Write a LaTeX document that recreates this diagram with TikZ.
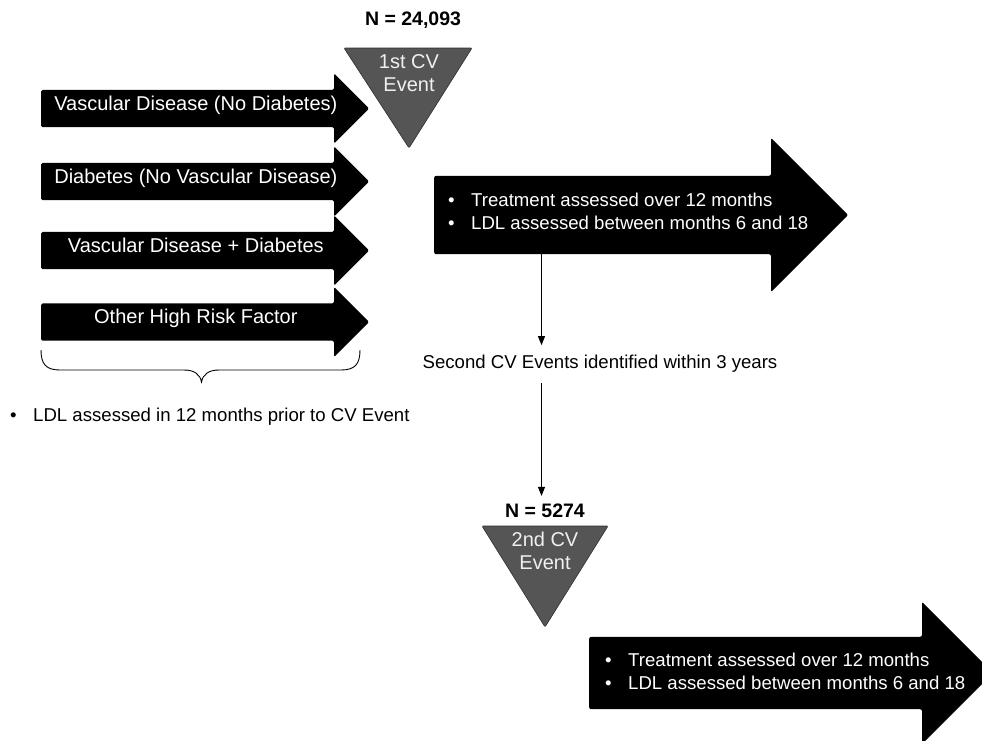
\documentclass[tikz,border=0pt]{standalone}
\usepackage{fontspec}
\setmainfont{Liberation Sans}
\usetikzlibrary{arrows.meta, positioning, shapes.arrows}
\definecolor{evfill}{RGB}{85, 85, 85}
\definecolor{evedge}{RGB}{45, 45, 45}
\newcommand{\bline}[1]{\makebox[23pt][l]{\textbullet}#1}

\begin{document}
\begin{tikzpicture}[x=1pt, y=-1pt,
    every node/.style={font=\fontsize{18.6}{23}\selectfont},
    riskarrow/.style={single arrow, fill=black, text=white, inner sep=0pt, anchor=tail,
        text height=20pt, text depth=17pt, minimum height=328pt,
        single arrow head extend=16.5pt, rounded corners=1.5pt,
        font=\fontsize{20}{24}\selectfont},
    carearrow/.style={single arrow, fill=black, inner xsep=0pt, anchor=tail,
        text height=0pt, text depth=0pt, rounded corners=2pt},
    caretext/.style={text=white, align=left, inner sep=0pt, anchor=west},
    evtri/.style={fill=evfill, draw=evedge, line width=0.6pt, rounded corners=1pt},
    evtext/.style={text=white!94!black, align=center, inner sep=0pt,
        font=\fontsize{20}{23}\selectfont},
    count/.style={font=\bfseries\fontsize{19.5}{23}\selectfont, inner sep=8pt},
    flow/.style={line width=0.9pt, -{Triangle[length=9pt, width=7pt]}}]
    \useasboundingbox (0,0) rectangle (982,740);
    \clip (0,0) rectangle (982,740);

    % risk groups feeding the first event
    \node[riskarrow] (vasc) at (41, 108.5) {Vascular Disease (No Diabetes)};
    \node[riskarrow] (diab) at (41, 181.5) {Diabetes (No Vascular Disease)};
    \node[riskarrow] (both) at (41, 250.5) {Vascular Disease + Diabetes};
    \node[riskarrow] (other) at (41, 322) {Other High Risk Factor};

    \draw[line width=0.9pt] (41,350) .. controls (41,364) and (46,370) .. (60,370) -- (184,370)
        .. controls (194,370) and (200,374) .. (201.5,382)
        .. controls (203,374) and (209,370) .. (219,370) -- (341,370)
        .. controls (355,370) and (360,364) .. (360,350);
    \node[inner sep=0pt, anchor=west] (prior) at (10, 417) {\bline{LDL assessed in 12 months prior to CV Event}};

    % first event
    \node[count] (n1) at (413, 20) {N = 24,093};
    \filldraw[evtri] (344,48) -- (472,48) -- (409,148) -- cycle;
    \node[evtext] (ev1) at (409, 73.5) {1st CV\\Event};

    \node[carearrow, inner ysep=39pt, minimum height=414pt, single arrow head extend=38pt] (care1) at (434, 215) {};
    \node[caretext] (care1txt) at ([xshift=14pt, yshift=4pt]care1.tail) {\bline{Treatment assessed over 12 months}\\\bline{LDL assessed between months 6 and 18}};

    % follow-up
    \coordinate (drop) at (541.5, 0);
    \node[inner ysep=10pt] (second) at (600, 364) {Second CV Events identified within 3 years};
    \draw[flow] (care1.south -| drop) -- (second.north -| drop);

    % second event
    \node[count] (n2) at (545, 511) {N = 5274};
    \draw[flow] (second.south -| drop) -- (n2.north -| drop);
    \filldraw[evtri] (482,526) -- (608,526) -- (545,627) -- cycle;
    \node[evtext] (ev2) at (545, 550.5) {2nd CV\\Event};

    \node[carearrow, inner ysep=36pt, minimum height=404pt, single arrow head extend=35pt] (care2) at (589, 673) {};
    \node[caretext] (care2txt) at ([xshift=16pt, yshift=1.5pt]care2.tail) {\bline{Treatment assessed over 12 months}\\\bline{LDL assessed between months 6 and 18}};
\end{tikzpicture}
\end{document}
